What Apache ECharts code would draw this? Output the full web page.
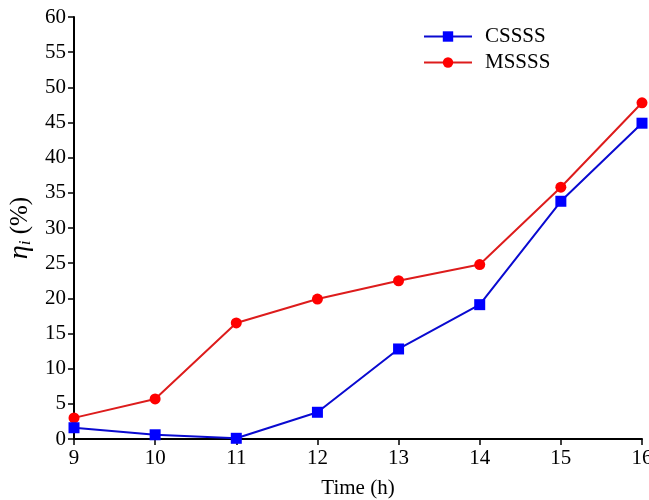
<!DOCTYPE html>
<html>
<head>
<meta charset="utf-8">
<script src="https://cdn.jsdelivr.net/npm/echarts@6/dist/echarts.min.js"></script>
<style>
    html, body { margin: 0; padding: 0; background: #fff; }
    #main { width: 649px; height: 500px; }
</style>
</head>
<body>
<div id="main"></div>
<script>
// data
var hours = [9, 10, 11, 12, 13, 14, 15, 16];
var csssS = [1.6, 0.6, 0.1, 3.8, 12.8, 19.1, 33.8, 44.9];
var msssS = [3.0, 5.7, 16.5, 19.9, 22.5, 24.8, 35.8, 47.8];

function pairs(ys) {
    return hours.map(function (h, i) { return [h, ys[i]]; });
}

var font = '"Liberation Serif", "Times New Roman", serif';
var myChart = echarts.init(document.getElementById('main'));

var option = {
    animation: false,
    textStyle: { fontFamily: font, color: '#000' },
    grid: { left: 74, right: 7, top: 17, bottom: 61, containLabel: false, outerBoundsMode: 'none' },
    legend: {
        orient: 'vertical',
        left: 418,
        top: 21,
        itemWidth: 48,
        itemHeight: 13,
        itemGap: 5,
        textStyle: { fontFamily: font, fontSize: 21, color: '#000', padding: [0, 0, 0, 8] },
        data: ['CSSSS', 'MSSSS']
    },
    xAxis: {
        type: 'value',
        min: 9,
        max: 16,
        interval: 1,
        name: 'Time (h)',
        nameLocation: 'middle',
        nameGap: 39,
        nameTextStyle: { fontFamily: font, fontSize: 21, color: '#000' },
        axisLine: { lineStyle: { color: '#000', width: 2 } },
        axisTick: { length: 6, lineStyle: { color: '#000', width: 1.5 } },
        axisLabel: { fontFamily: font, fontSize: 21, color: '#000', margin: 9 },
        splitLine: { show: false }
    },
    yAxis: {
        type: 'value',
        min: 0,
        max: 60,
        interval: 5,
        name: '{a|η}{b|i} (%)',
        nameLocation: 'middle',
        nameGap: 40,
        nameTextStyle: {
            fontFamily: font, fontSize: 25, color: '#000',
            rich: {
                a: { fontFamily: font, fontSize: 28, fontStyle: 'italic', color: '#000' },
                b: { fontFamily: font, fontSize: 17, fontStyle: 'italic', color: '#000', verticalAlign: 'bottom', padding: [9, 0, 0, 0] }
            }
        },
        axisLine: { show: true, lineStyle: { color: '#000', width: 2 } },
        axisTick: { show: true, length: 6, lineStyle: { color: '#000', width: 1.5 } },
        axisLabel: { fontFamily: font, fontSize: 21, color: '#000', margin: 8 },
        splitLine: { show: false }
    },
    series: [
        {
            name: 'CSSSS',
            type: 'line',
            data: pairs(csssS),
            symbol: 'rect',
            symbolSize: 11,
            lineStyle: { color: '#0a0ad0', width: 2 },
            itemStyle: { color: '#0000ff' },
            z: 3
        },
        {
            name: 'MSSSS',
            type: 'line',
            data: pairs(msssS),
            symbol: 'circle',
            symbolSize: 11,
            lineStyle: { color: '#dd1c1c', width: 2 },
            itemStyle: { color: '#ff0000' },
            z: 2
        }
    ]
};

myChart.setOption(option);
</script>
</body>
</html>
